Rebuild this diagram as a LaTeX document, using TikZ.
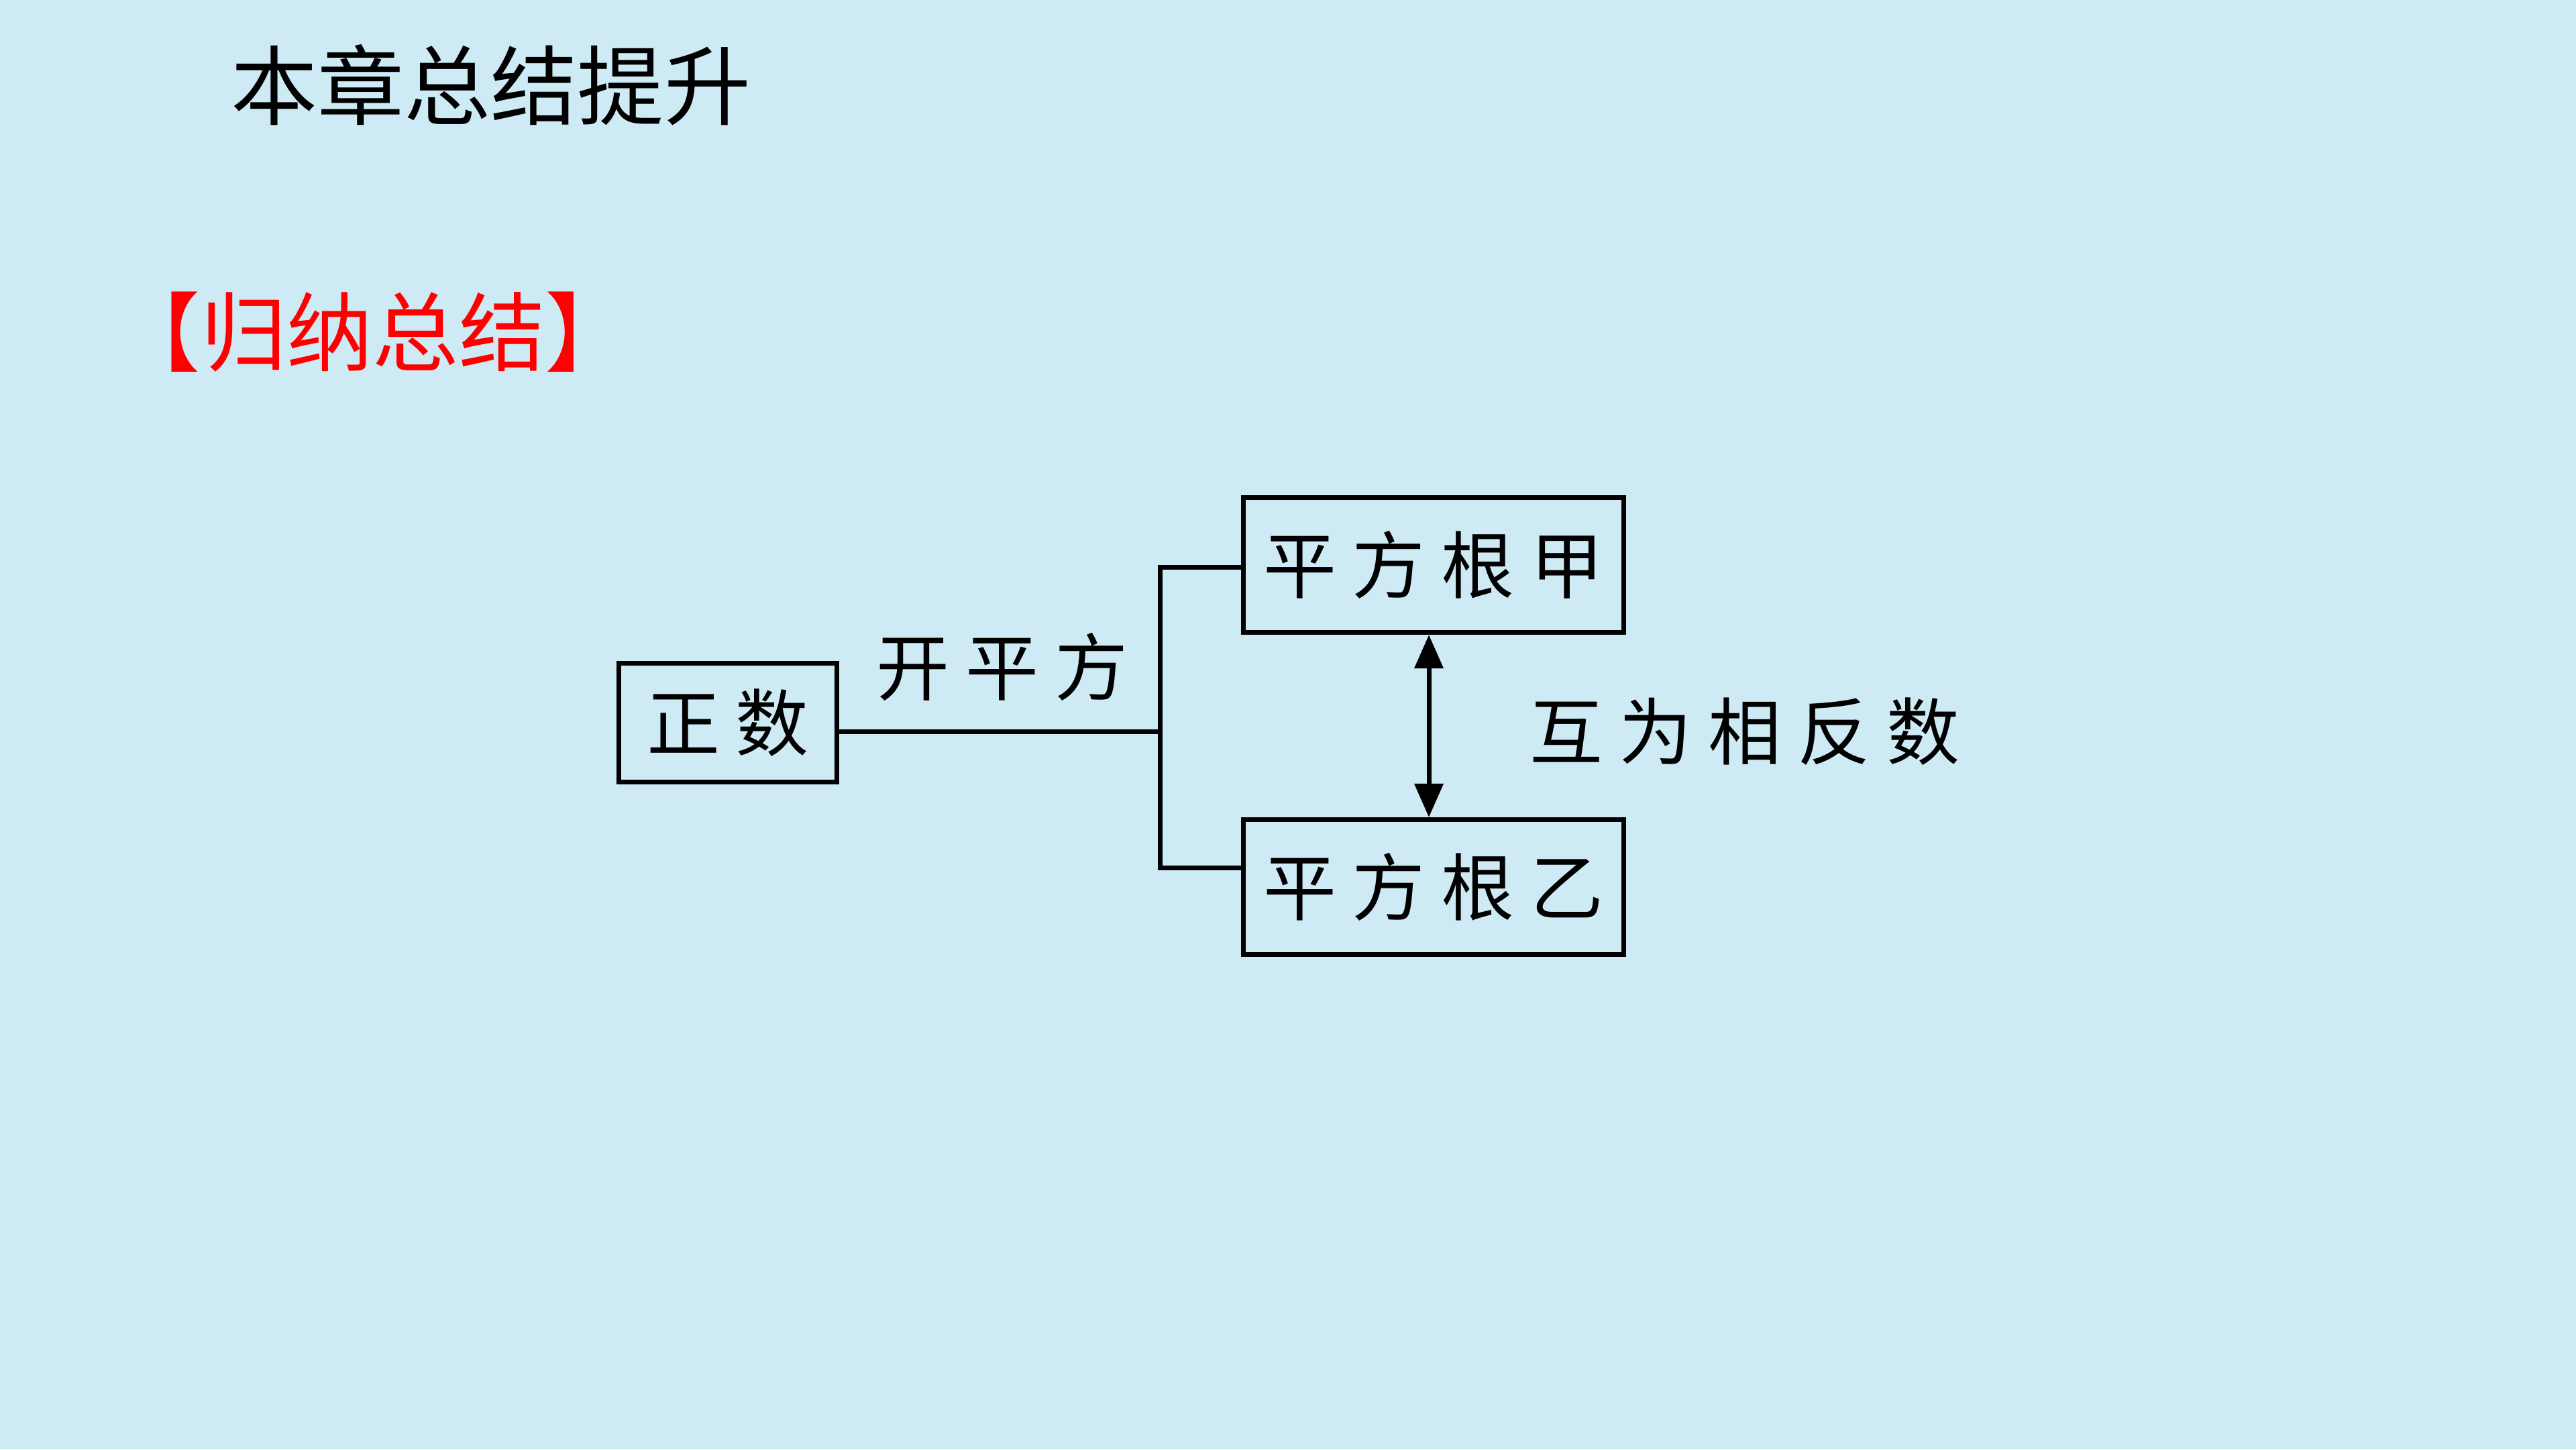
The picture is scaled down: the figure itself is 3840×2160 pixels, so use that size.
\documentclass[tikz,border=0pt]{standalone}
\usepackage{fontspec}
\usetikzlibrary{arrows.meta}
\newfontfamily\cjk{Noto Sans CJK SC}
\newfontfamily\cjksp[LetterSpace=22]{Noto Sans CJK SC}
\definecolor{bgblue}{RGB}{205,234,245}
\definecolor{headred}{RGB}{255,0,0}
\tikzset{
  box/.style={draw=black, line width=2pt, inner sep=0pt, font=\cjksp\fontsize{31}{31}\selectfont},
  conn/.style={draw=black, line width=2pt},
  lbl/.style={inner sep=0pt, font=\cjksp\fontsize{31}{31}\selectfont},
}
\begin{document}
\begin{tikzpicture}[x=0.01cm,y=-0.01cm]
\fill[bgblue] (0,0) rectangle (3840,2160);
\useasboundingbox (0,0) rectangle (3840,2160);
\node[anchor=west, inner sep=0pt, font=\cjk\fontsize{36.7}{36.7}\selectfont] (title) at (344,127) {本章总结提升};
\node[anchor=west, inner sep=0pt, text=headred, font=\cjk\fontsize{36.5}{36.5}\selectfont] (head) at (170,495) {【归纳总结】};
\node[box, minimum width=3.24cm, minimum height=1.77cm] (zs) at (1085,1077) {正数};
\node[box, minimum width=5.66cm, minimum height=2.01cm] (jia) at (2137,842) {平方根甲};
\node[box, minimum width=5.66cm, minimum height=2.01cm] (yi) at (2137,1322) {平方根乙};
\coordinate (junc) at (1729,1090);
\coordinate (jt) at (1729,845);
\coordinate (jb) at (1729,1293);
\draw[conn] (zs.east |- junc) -- (junc);
\draw[conn] (jia.west |- jt) -- (jt) -- (jb) -- (yi.west |- jb);
\draw[conn, {Triangle[length=0.5cm,width=0.42cm]}-{Triangle[length=0.5cm,width=0.42cm]}] ([xshift=-0.07cm]jia.south) -- ([xshift=-0.07cm]yi.north);
\node[lbl] (kpf) at (1494,994) {开平方};
\node[lbl] (hw) at (2601,1090) {互为相反数};
\end{tikzpicture}
\end{document}
